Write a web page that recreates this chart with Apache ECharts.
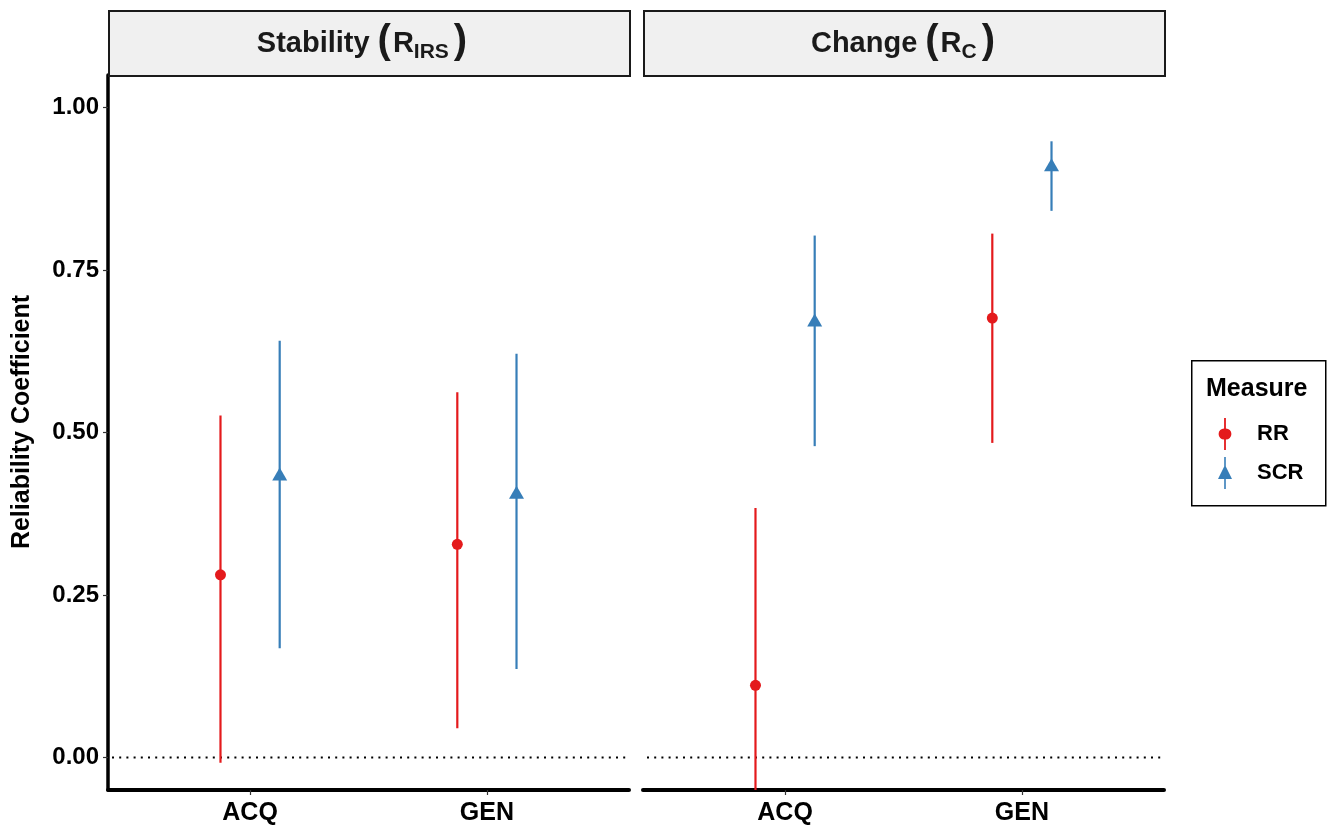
<!DOCTYPE html>
<html>
<head>
<meta charset="utf-8">
<script src="https://cdn.jsdelivr.net/npm/echarts@6/dist/echarts.min.js"></script>
<style>
html,body{margin:0;padding:0;background:#fff;}
#chart{width:1341px;height:826px;}
</style>
</head>
<body>
<div id="chart"></div>
<script>
// ---- data ----
var categories = ['ACQ', 'GEN'];
var facets = ['Stability', 'Change'];
var measures = ['RR', 'SCR'];
// [facet][category]
var rrEst = [[0.281, 0.328], [0.111, 0.676]];
var rrLo  = [[-0.008, 0.045], [-0.16, 0.484]];
var rrHi  = [[0.526, 0.562], [0.384, 0.806]];
var scrEst = [[0.436, 0.408], [0.673, 0.912]];
var scrLo  = [[0.168, 0.136], [0.479, 0.841]];
var scrHi  = [[0.641, 0.621], [0.803, 0.948]];
var yTicks = [0, 0.25, 0.5, 0.75, 1.0];

// ---- styling ----
var RED = '#E41A1C', BLUE = '#377EB8';
var FONT = '"Liberation Sans", Arial, sans-serif';
var dodge = 0.125;

var chart = echarts.init(document.getElementById('chart'));

var grids = [
  {left: 108, right: 1341 - 629, top: 75, bottom: 36},
  {left: 643, right: 1341 - 1164, top: 75, bottom: 36}
];

var xAxes = [], yAxes = [], series = [];
facets.forEach(function (f, fi) {
  xAxes.push({
    type: 'value', gridIndex: fi, min: 0.4, max: 2.6,
    splitLine: {show: false},
    axisLine: {show: true, onZero: false, lineStyle: {color: '#000', width: 4}},
    axisTick: {show: true, customValues: [1, 2], length: 5, lineStyle: {color: '#333', width: 1.2}},
    axisLabel: {
      customValues: [1, 2], margin: 11,
      formatter: function (v) { return categories[Math.round(v) - 1] || ''; },
      color: '#000', fontFamily: FONT, fontWeight: 'bold', fontSize: 25
    }
  });
  yAxes.push({
    type: 'value', gridIndex: fi, min: -0.05, max: 1.05,
    splitLine: {show: false},
    axisLine: {show: fi === 0, onZero: false, lineStyle: {color: '#000', width: 3.5}},
    axisTick: {show: fi === 0, customValues: yTicks, length: 5, lineStyle: {color: '#333', width: 1.2}},
    axisLabel: {
      show: fi === 0, customValues: yTicks, margin: 9,
      formatter: function (v) { return v.toFixed(2); },
      color: '#000', fontFamily: FONT, fontWeight: 'bold', fontSize: 24
    }
  });

  var groups = [
    {name: 'RR', est: rrEst[fi], lo: rrLo[fi], hi: rrHi[fi], off: -dodge, color: RED, symbol: 'circle', size: 11},
    {name: 'SCR', est: scrEst[fi], lo: scrLo[fi], hi: scrHi[fi], off: dodge, color: BLUE, symbol: 'triangle', size: [15, 13]}
  ];
  groups.forEach(function (g) {
    var barData = categories.map(function (c, ci) { return [ci + 1 + g.off, g.lo[ci], g.hi[ci]]; });
    series.push({
      type: 'custom', name: g.name, xAxisIndex: fi, yAxisIndex: fi, clip: true,
      data: barData, silent: true,
      itemStyle: {color: g.color},
      renderItem: function (params, api) {
        var p1 = api.coord([api.value(0), api.value(1)]);
        var p2 = api.coord([api.value(0), api.value(2)]);
        return {
          type: 'line',
          shape: {x1: p1[0], y1: p1[1], x2: p2[0], y2: p2[1]},
          style: {stroke: g.color, lineWidth: 2.2}
        };
      },
      encode: {x: 0, y: [1, 2]}
    });
    series.push({
      type: 'scatter', name: g.name, xAxisIndex: fi, yAxisIndex: fi,
      symbol: g.symbol, symbolSize: g.size,
      itemStyle: {color: g.color, opacity: 1},
      data: categories.map(function (c, ci) { return [ci + 1 + g.off, g.est[ci]]; }),
      z: 5
    });
  });
  // dotted reference line at 0
  series.push({
    type: 'line', xAxisIndex: fi, yAxisIndex: fi, silent: true,
    data: [[0.4, 0], [2.6, 0]], symbol: 'none',
    lineStyle: {color: '#000', width: 2, type: [2, 5.2], dashOffset: -4}, z: 1
  });
});

var strips = [
  {x: 108, w: 521, cx: 362, text: '{a|Stability}{p|(}{a|R}{s|IRS}{q|)}'},
  {x: 643, w: 521, cx: 903, text: '{a|Change}{p|(}{a|R}{s|C}{q|)}'}
];
var graphics = [];
strips.forEach(function (s) {
  graphics.push({
    type: 'rect', left: s.x, top: 10,
    shape: {width: s.w, height: 65},
    style: {fill: '#F0F0F0', stroke: '#1a1a1a', lineWidth: 2}, z: 10
  });
  graphics.push({
    type: 'text', x: s.cx, y: 44, z: 11,
    style: {
      text: s.text, align: 'center', verticalAlign: 'middle',
      rich: {
        a: {fontFamily: FONT, fontWeight: 'bold', fontSize: 29, fill: '#1a1a1a', verticalAlign: 'middle', lineHeight: 44},
        p: {fontFamily: FONT, fontWeight: 'bold', fontSize: 40, fill: '#1a1a1a', verticalAlign: 'middle', lineHeight: 44, padding: [0, 2, 4, 8]},
        q: {fontFamily: FONT, fontWeight: 'bold', fontSize: 40, fill: '#1a1a1a', verticalAlign: 'middle', lineHeight: 44, padding: [0, 0, 4, 5]},
        s: {fontFamily: FONT, fontWeight: 'bold', fontSize: 21, fill: '#1a1a1a', verticalAlign: 'middle', lineHeight: 44, padding: [16, 0, 0, 0]}
      }
    }
  });
});
// y axis title
graphics.push({
  type: 'text', x: 22, y: 422, rotation: Math.PI / 2, z: 11,
  style: {text: 'Reliability Coefficient', align: 'center', verticalAlign: 'middle',
          fontFamily: FONT, fontWeight: 'bold', fontSize: 25, fill: '#000'}
});
// legend box + title
graphics.push({
  type: 'rect', left: 1191, top: 360, shape: {width: 134, height: 145},
  style: {fill: '#fff', stroke: '#000', lineWidth: 1.5}, z: 0
});
graphics.push({
  type: 'text', x: 1206, y: 389, z: 11,
  style: {text: 'Measure', verticalAlign: 'middle', fontFamily: FONT, fontWeight: 'bold', fontSize: 25, fill: '#000'}
});

var rrIcon = 'path://M6.1 0 L7.9 0 L7.9 10.5 A5.5 5.5 0 0 1 7.9 21.5 L7.9 32 L6.1 32 L6.1 21.5 A5.5 5.5 0 0 1 6.1 10.5 Z M0 32 L0 32 Z M14 0 L14 0 Z';
var scrIcon = 'path://M6.2 0 L7.8 0 L7.8 9.5 L14 22 L7.8 22 L7.8 32 L6.2 32 L6.2 22 L0 22 L6.2 9.5 Z';

chart.setOption({
  animation: false,
  backgroundColor: '#fff',
  grid: grids,
  xAxis: xAxes,
  yAxis: yAxes,
  series: series,
  graphic: graphics,
  legend: {
    orient: 'vertical', left: 1213, top: 413, itemGap: 7,
    itemWidth: 14, itemHeight: 32,
    data: [
      {name: 'RR', icon: rrIcon, itemStyle: {color: RED}},
      {name: 'SCR', icon: scrIcon, itemStyle: {color: BLUE}}
    ],
    textStyle: {fontFamily: FONT, fontWeight: 'bold', fontSize: 22, color: '#000', padding: [0, 0, 0, 20]}
  }
});
</script>
</body>
</html>
